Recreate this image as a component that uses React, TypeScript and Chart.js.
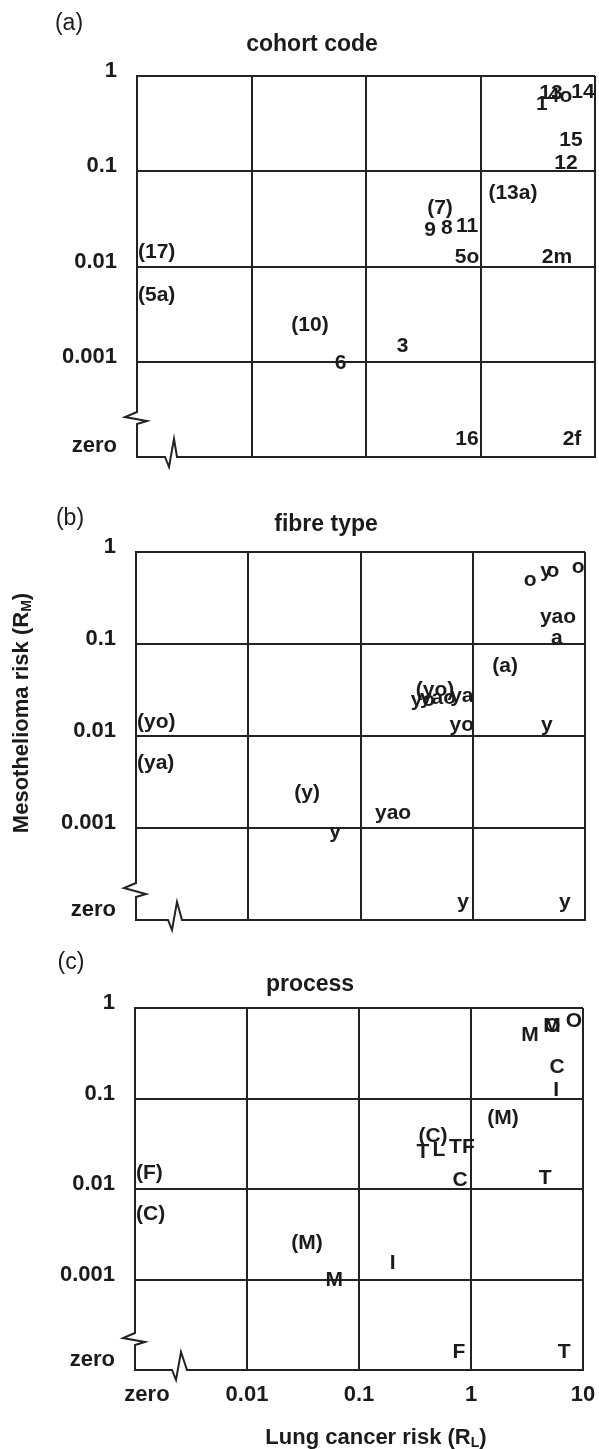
import React, { useEffect, useRef } from 'react';
import { Chart, registerables } from 'chart.js';

Chart.register(...registerables);

// ---------- axis tick labels ----------
const xTickLabels = ['zero', '0.01', '0.1', '1', '10'];
const yTickLabels = ['zero', '0.001', '0.01', '0.1', '1'];
const tickPositions = [0, 1, 2, 3, 4];

// ---------- (a) cohort code ----------
const cohortLabels = ['1', '13', '4o', '14', '15', '12', '(13a)', '(7)', '9', '8', '11', '5o', '2m', '(17)', '(5a)', '(10)', '6', '3', '16', '2f'];
const cohortLungRisk = [3.44, 4.13, 4.95, 7.85, 6.17, 5.58, 1.92, 0.443, 0.362, 0.509, 0.762, 0.762, 4.66, 0, 0, 0.0324, 0.06, 0.209, 0.762, 6.3];
const cohortMesoRisk = [0.506, 0.66, 0.61, 0.676, 0.212, 0.122, 0.059, 0.041, 0.024, 0.025, 0.0264, 0.0126, 0.0126, 0.0142, 0.005, 0.00243, 0.00097, 0.00146, 0, 0];

// ---------- (b) fibre type ----------
const fibreLabels = ['o', 'y', 'o', 'o', 'yao', 'a', '(a)', '(yo)', 'yo', 'yao', 'ya', 'yo', 'y', '(yo)', '(ya)', '(y)', 'yao', 'y', 'y', 'y'];
const fibreLungRisk = [3.24, 4.5, 5.19, 8.67, 5.75, 5.62, 1.94, 0.461, 0.36, 0.49, 0.8, 0.8, 4.57, 0, 0, 0.0334, 0.195, 0.0593, 0.82, 6.6];
const fibreMesoRisk = [0.497, 0.62, 0.62, 0.687, 0.197, 0.116, 0.0576, 0.0316, 0.0246, 0.0259, 0.0272, 0.0132, 0.0132, 0.0142, 0.0051, 0.0024, 0.00146, 0.00091, 0, 0];

// ---------- (c) process ----------
const processLabels = ['M', 'M', 'O', 'O', 'C', 'I', '(M)', '(C)', 'T', 'L', 'TF', 'C', 'T', '(F)', '(C)', '(M)', 'M', 'I', 'F', 'T'];
const processLungRisk = [3.36, 5.29, 5.3, 8.3, 5.86, 5.75, 1.93, 0.458, 0.373, 0.518, 0.83, 0.8, 4.6, 0, 0, 0.0344, 0.06, 0.2, 0.78, 6.8];
const processMesoRisk = [0.5, 0.63, 0.63, 0.718, 0.223, 0.124, 0.061, 0.0385, 0.0256, 0.027, 0.0291, 0.0126, 0.0132, 0.015, 0.0052, 0.00253, 0.00099, 0.00152, 0, 0];

// ---------- styling ----------
const FONT = '"Liberation Sans", Arial, Helvetica, sans-serif';
const INK = '#1b1b1b';
const LINE = '#222222';
const W = 599;

// risk -> axis position (decades; 'zero' sits at 0)
const xPos = (v: number) => (v <= 0 ? 0 : Math.log10(v) + 3);
const yPos = (v: number) => (v <= 0 ? 0 : Math.log10(v) + 4);

type PanelSpec = {
  labels: string[];
  lung: number[];
  meso: number[];
  canvasTop: number;
  canvasHeight: number;
  area: { left: number; right: number; top: number; bottom: number };
  showX: boolean;
  letter: string;
  letterPos: [number, number];
  title: string;
  titlePos: [number, number];
  yBreak: [number, number];
  xBreak: [number, number];
  yTitle?: boolean;
  xTitle?: boolean;
};

const panels: PanelSpec[] = [
  {
    labels: cohortLabels, lung: cohortLungRisk, meso: cohortMesoRisk,
    canvasTop: 0, canvasHeight: 478,
    area: { left: 137, right: 595, top: 76, bottom: 457 },
    showX: false,
    letter: '(a)', letterPos: [69, 24],
    title: 'cohort code', titlePos: [312, 45],
    yBreak: [33, 45], xBreak: [28, 40],
  },
  {
    labels: fibreLabels, lung: fibreLungRisk, meso: fibreMesoRisk,
    canvasTop: 478, canvasHeight: 457,
    area: { left: 136, right: 585, top: 552, bottom: 920 },
    showX: false,
    letter: '(b)', letterPos: [70, 519],
    title: 'fibre type', titlePos: [326, 525],
    yBreak: [23, 37], xBreak: [32, 46],
    yTitle: true,
  },
  {
    labels: processLabels, lung: processLungRisk, meso: processMesoRisk,
    canvasTop: 935, canvasHeight: 514,
    area: { left: 135, right: 583, top: 1008, bottom: 1370 },
    showX: true,
    letter: '(c)', letterPos: [71, 963],
    title: 'process', titlePos: [310, 985],
    yBreak: [25, 37], xBreak: [37, 52],
    xTitle: true,
  },
];

function drawSubText(
  ctx: CanvasRenderingContext2D,
  main: string, sub: string, tail: string,
  size: number, subSize: number, subDrop: number
) {
  ctx.font = `bold ${size}px ${FONT}`;
  const w1 = ctx.measureText(main).width;
  const w3 = ctx.measureText(tail).width;
  ctx.font = `bold ${subSize}px ${FONT}`;
  const w2 = ctx.measureText(sub).width;
  const total = w1 + w2 + w3;
  let x = -total / 2;
  ctx.textAlign = 'left';
  ctx.textBaseline = 'middle';
  ctx.font = `bold ${size}px ${FONT}`;
  ctx.fillText(main, x, 0);
  x += w1;
  ctx.font = `bold ${subSize}px ${FONT}`;
  ctx.fillText(sub, x, subDrop);
  x += w2;
  ctx.font = `bold ${size}px ${FONT}`;
  ctx.fillText(tail, x, 0);
}

function makeDecorPlugin(spec: PanelSpec) {
  return {
    id: 'panelDecor',
    afterDatasetsDraw(chart: any) {
      const ctx: CanvasRenderingContext2D = chart.ctx;
      const xs = chart.scales.x;
      const ys = chart.scales.y;
      const left = Math.round(xs.getPixelForValue(0));
      const right = xs.getPixelForValue(4);
      const top = ys.getPixelForValue(4);
      const bottom = Math.round(ys.getPixelForValue(0));
      const off = spec.canvasTop;

      ctx.save();
      // axes with breaks
      ctx.strokeStyle = LINE;
      ctx.lineWidth = 2;
      ctx.lineJoin = 'miter';
      ctx.beginPath();
      ctx.moveTo(left, top - 1);
      ctx.lineTo(left, bottom - spec.yBreak[1]);
      ctx.lineTo(left - 12, bottom - spec.yBreak[1] + 5);
      ctx.lineTo(left + 10, bottom - spec.yBreak[0] - 3);
      ctx.lineTo(left, bottom - spec.yBreak[0]);
      ctx.lineTo(left, bottom);
      ctx.lineTo(left + spec.xBreak[0], bottom);
      ctx.lineTo(left + spec.xBreak[0] + 4, bottom + 10);
      ctx.lineTo(left + spec.xBreak[0] + 9, bottom - 18);
      ctx.lineTo(left + spec.xBreak[1], bottom);
      ctx.lineTo(right + 1, bottom);
      ctx.stroke();

      // point labels
      ctx.fillStyle = INK;
      ctx.font = `bold 21px ${FONT}`;
      ctx.textBaseline = 'middle';
      const meta = chart.getDatasetMeta(0);
      meta.data.forEach((el: any, i: number) => {
        const txt = spec.labels[i];
        let x = el.x;
        let y = el.y;
        if (spec.lung[i] <= 0) {
          ctx.textAlign = 'left';
          x = left + 1;
        } else {
          ctx.textAlign = 'center';
        }
        if (spec.meso[i] <= 0) {
          y = bottom - 18;
        }
        ctx.fillText(txt, x, y);
      });

      // panel letter
      ctx.font = `23px ${FONT}`;
      ctx.textAlign = 'center';
      ctx.textBaseline = 'middle';
      ctx.fillText(spec.letter, spec.letterPos[0], spec.letterPos[1] - off);

      // panel title
      ctx.font = `bold 23px ${FONT}`;
      ctx.fillText(spec.title, spec.titlePos[0], spec.titlePos[1] - off);

      if (spec.yTitle) {
        ctx.save();
        ctx.translate(22, 713 - off);
        ctx.rotate(-Math.PI / 2);
        drawSubText(ctx, 'Mesothelioma risk (R', 'M', ')', 22, 14, 5);
        ctx.restore();
      }
      if (spec.xTitle) {
        ctx.save();
        ctx.translate(376, 1438 - off);
        drawSubText(ctx, 'Lung cancer risk (R', 'L', ')', 22, 14, 5);
        ctx.restore();
      }
      ctx.restore();
    },
  };
}

function Panel({ spec }: { spec: PanelSpec }) {
  const ref = useRef<HTMLCanvasElement | null>(null);

  useEffect(() => {
    if (!ref.current) return;
    const a = spec.area;
    const xAxisHeight = spec.showX ? spec.canvasTop + spec.canvasHeight - a.bottom : 0;
    const gridColor = (c: any) => (c.tick && c.tick.value < 0.5 ? 'rgba(0,0,0,0)' : LINE);
    const zeroPad = (s: any) => {
      s.paddingTop = 0;
      s.paddingBottom = 0;
      s.paddingLeft = 0;
      s.paddingRight = 0;
    };

    const chart = new Chart(ref.current, {
      type: 'scatter',
      data: {
        datasets: [
          {
            data: spec.lung.map((v, i) => ({ x: xPos(v), y: yPos(spec.meso[i]) })),
            pointRadius: 0,
            pointHoverRadius: 0,
            showLine: false,
          },
        ],
      },
      options: {
        animation: false,
        responsive: false,
        maintainAspectRatio: false,
        events: [],
        layout: {
          padding: {
            left: 0,
            right: W - a.right,
            top: a.top - spec.canvasTop,
            bottom: spec.showX ? 0 : spec.canvasTop + spec.canvasHeight - a.bottom,
          },
        },
        plugins: {
          legend: { display: false },
          tooltip: { enabled: false },
          title: { display: false },
        },
        scales: {
          x: {
            type: 'linear',
            min: 0,
            max: 4,
            afterBuildTicks: (s: any) => {
              s.ticks = tickPositions.map((v) => ({ value: v === 0 ? 0.107 : v }));
            },
            afterFit: (s: any) => {
              s.height = xAxisHeight;
              zeroPad(s);
            },
            grid: { color: gridColor, lineWidth: 2, drawTicks: false },
            border: { display: false },
            ticks: {
              display: spec.showX,
              autoSkip: false,
              maxRotation: 0,
              padding: 12,
              color: INK,
              font: { family: FONT, size: 22, weight: 'bold' },
              callback: (_v: any, i: number) => xTickLabels[i],
            },
          },
          y: {
            type: 'linear',
            min: 0,
            max: 4,
            afterBuildTicks: (s: any) => {
              s.ticks = tickPositions.map((v) => ({ value: v === 0 ? 0.06 : v }));
            },
            afterFit: (s: any) => {
              s.width = a.left;
              zeroPad(s);
            },
            grid: { color: gridColor, lineWidth: 2, drawTicks: false },
            border: { display: false },
            ticks: {
              autoSkip: false,
              padding: 20,
              labelOffset: -5,
              color: INK,
              font: { family: FONT, size: 22, weight: 'bold' },
              callback: (_v: any, i: number) => yTickLabels[i],
            },
          },
        },
      } as any,
      plugins: [makeDecorPlugin(spec)],
    });
    return () => chart.destroy();
  }, [spec]);

  return (
    <canvas
      ref={ref}
      width={W}
      height={spec.canvasHeight}
      style={{ position: 'absolute', left: 0, top: spec.canvasTop, width: W, height: spec.canvasHeight }}
    />
  );
}

export default function App() {
  return (
    <div style={{ position: 'absolute', left: 0, top: 0, width: W, height: 1449, background: '#ffffff' }}>
      {panels.map((p, i) => (
        <Panel key={i} spec={p} />
      ))}
    </div>
  );
}
